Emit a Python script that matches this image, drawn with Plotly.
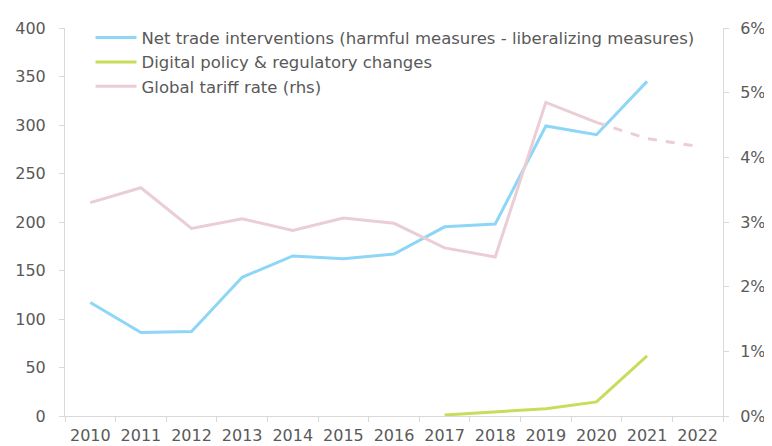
import plotly.graph_objects as go

years = ["2010", "2011", "2012", "2013", "2014", "2015", "2016",
         "2017", "2018", "2019", "2020", "2021", "2022"]
net_trade = [117, 86, 87, 143, 165, 162, 167, 195, 198, 299, 290, 345, None]
digital_years = ["2017", "2018", "2019", "2020", "2021"]
digital = [1, 4, 7.5, 14.5, 62]
tariff_years = ["2010", "2011", "2012", "2013", "2014", "2015", "2016",
                "2017", "2018", "2019", "2020"]
tariff = [3.30, 3.53, 2.90, 3.05, 2.87, 3.06, 2.98, 2.60, 2.46, 4.85, 4.54]
tariff_fc_years = ["2020", "2021", "2022"]
tariff_fc = [4.54, 4.29, 4.17]

BLUE = "#8ED6F7"
GREEN = "#C8DD5C"
PINK = "#EBCDD6"
AX = "#D9D9D9"
TXT = "#595959"
FONT = "DejaVu Sans, Liberation Sans, Arial"

fig = go.Figure()
fig.add_trace(go.Scatter(x=years, y=net_trade, mode="lines",
                         line=dict(color=BLUE, width=3),
                         name="Net trade interventions (harmful measures - liberalizing measures)"))
fig.add_trace(go.Scatter(x=digital_years, y=digital, mode="lines",
                         line=dict(color=GREEN, width=3),
                         name="Digital policy & regulatory changes"))
fig.add_trace(go.Scatter(x=tariff_years, y=tariff, mode="lines", yaxis="y2",
                         line=dict(color=PINK, width=3),
                         name="Global tariff rate (rhs)"))
fig.add_trace(go.Scatter(x=tariff_fc_years, y=tariff_fc, mode="lines", yaxis="y2",
                         line=dict(color=PINK, width=3, dash="dash"),
                         showlegend=False))

fig.update_layout(
    template="none",
    width=764, height=438,
    margin=dict(l=57, r=49, t=13, b=30, pad=0),
    paper_bgcolor="white", plot_bgcolor="white",
    font=dict(family=FONT, size=16, color=TXT),
    showlegend=True,
    hovermode=False,
    legend=dict(x=0.0388, y=1.02, xanchor="left", yanchor="top",
                bgcolor="rgba(0,0,0,0)", borderwidth=0,
                font=dict(family=FONT, size=16.5, color=TXT),
                itemwidth=41,
                tracegroupgap=0),
    xaxis=dict(type="category", categoryorder="array", categoryarray=years,
               range=[-0.5, 12.5], automargin=False,
               showline=True, linecolor=AX, linewidth=1,
               ticks="outside", tickson="boundaries", ticklen=5, tickcolor=AX,
               ticklabelstandoff=5,
               showgrid=False, zeroline=False,
               tickfont=dict(family=FONT, size=16, color=TXT)),
    yaxis=dict(range=[0, 400], dtick=50, showline=True, linecolor=AX,
               automargin=False,
               ticks="outside", ticklen=5, tickcolor=AX,
               ticklabelstandoff=10,
               showgrid=False, zeroline=False,
               tickfont=dict(family=FONT, size=16, color=TXT)),
    yaxis2=dict(range=[0, 6], dtick=1, overlaying="y", side="right",
                automargin=False,
                showline=True, linecolor=AX,
                ticks="outside", ticklen=5, tickcolor=AX,
                ticklabelstandoff=8,
                ticksuffix="%", showgrid=False, zeroline=False,
                tickfont=dict(family=FONT, size=16, color=TXT)),
)

fig.write_html("out.html")
